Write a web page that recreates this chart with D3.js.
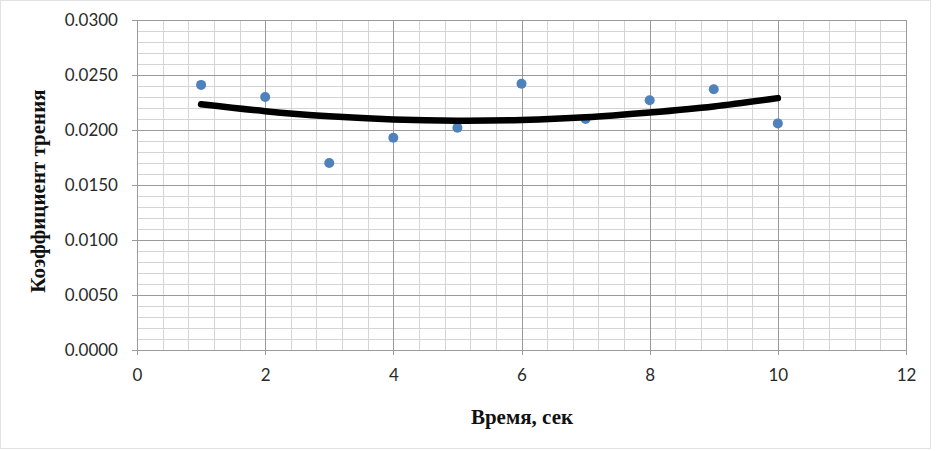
<!DOCTYPE html>
<html lang="ru">
<meta charset="utf-8">
<head>
  <title>Коэффициент трения</title>
  <style>
  body {
    margin: 0;
    background: #fff;
  }

  .grid-minor line {
    stroke: #d4d4d4;
    stroke-width: 1px;
    shape-rendering: crispEdges;
  }

  .grid-major line {
    stroke: #9a9a9a;
    stroke-width: 1px;
    shape-rendering: crispEdges;
  }

  .grid-minor path, .grid-major path {
    stroke-width: 0;
  }

  .axis path, .axis line {
    stroke: #9a9a9a;
    shape-rendering: crispEdges;
  }

  .axis text {
    font: 17px Lato, "Open Sans", sans-serif;
    fill: #2a2a2a;
  }

  .axis-title {
    font: bold 21px "Liberation Serif", "DejaVu Serif", serif;
    fill: #111;
  }

  .trend {
    fill: none;
    stroke: #000;
    stroke-width: 6.5px;
    stroke-linecap: round;
  }
  </style>
</head>
<body>
  <svg id="chart" width="937" height="451"></svg>
  <script src="https://cdn.jsdelivr.net/npm/d3@7"></script>
  <script>

// measured points (time, sec -> friction coefficient)
var times = [1, 2, 3, 4, 5, 6, 7, 8, 9, 10];
var friction = [0.0241, 0.0230, 0.0170, 0.0193, 0.0202, 0.0242, 0.0210, 0.0227, 0.0237, 0.0206];

// polynomial trend line at each time
var trend = [0.02234, 0.02171, 0.02125, 0.02096, 0.02085, 0.02091, 0.02115, 0.02159, 0.02214, 0.02290];

var xTicks = [0, 2, 4, 6, 8, 10, 12];
var yTicks = [0, 0.005, 0.010, 0.015, 0.020, 0.025, 0.030];

var svg = d3.select("svg#chart"),
    margin = {top: 20, right: 31, bottom: 101, left: 137},
    width = svg.attr("width") - margin.left - margin.right,
    height = svg.attr("height") - margin.top - margin.bottom,
    g = svg.append("g").attr("transform", "translate(" + margin.left + "," + margin.top + ")");

// faint frame round the whole chart
svg.append("rect")
    .attr("x", 0.5)
    .attr("y", 0.5)
    .attr("width", 930)
    .attr("height", 448)
    .attr("fill", "none")
    .attr("stroke", "#e2e2e2");

var xScale = d3.scaleLinear().domain([0, 12]).range([0, width]),
    yScale = d3.scaleLinear().domain([0, 0.03]).range([height, 0]);

// minor gridlines: every 0.4 sec and every 0.001
g.append("g")
    .attr("class", "grid-minor")
    .attr("transform", "translate(0," + height + ")")
    .call(d3.axisBottom(xScale)
        .tickValues(d3.range(0, 30).map(function(i) { return i * 0.4; }))
        .tickSize(-height)
        .tickFormat(""));

g.append("g")
    .attr("class", "grid-minor")
    .call(d3.axisLeft(yScale)
        .tickValues(d3.range(0, 30).map(function(i) { return i * 0.001; }))
        .tickSize(-width)
        .tickFormat(""));

// major gridlines
g.append("g")
    .attr("class", "grid-major")
    .attr("transform", "translate(0," + height + ")")
    .call(d3.axisBottom(xScale)
        .tickValues(xTicks)
        .tickSize(-height)
        .tickFormat(""));

g.append("g")
    .attr("class", "grid-major")
    .call(d3.axisLeft(yScale)
        .tickValues(yTicks)
        .tickSize(-width)
        .tickFormat(""));

// plot border
g.append("rect")
    .attr("width", width)
    .attr("height", height)
    .attr("fill", "none")
    .attr("stroke", "#9a9a9a")
    .attr("shape-rendering", "crispEdges");

// axes
g.append("g")
    .attr("class", "axis axis--x")
    .attr("transform", "translate(0," + height + ")")
    .call(d3.axisBottom(xScale)
        .tickValues(xTicks)
        .tickSize(5)
        .tickPadding(14)
        .tickSizeOuter(0))
  .selectAll("text")
    .attr("dy", "0.71em");

g.append("g")
    .attr("class", "axis axis--y")
    .call(d3.axisLeft(yScale)
        .tickValues(yTicks)
        .tickSize(5)
        .tickPadding(14)
        .tickSizeOuter(0)
        .tickFormat(d3.format(".4f")));

// axis titles
svg.append("text")
    .attr("class", "axis-title")
    .attr("x", 522)
    .attr("y", 424)
    .attr("text-anchor", "middle")
    .text("Время, сек");

svg.append("text")
    .attr("class", "axis-title")
    .attr("transform", "translate(45,191) rotate(-90)")
    .attr("text-anchor", "middle")
    .text("Коэффициент трения");

// trend line
var line = d3.line()
    .curve(d3.curveNatural)
    .x(function(d) { return xScale(d.t); })
    .y(function(d) { return yScale(d.v); });

// points
g.selectAll(".dot")
    .data(times.map(function(t, i) { return {t: t, v: friction[i]}; }))
    .enter().append("circle")
    .attr("class", "dot")
    .attr("cx", function(d) { return xScale(d.t); })
    .attr("cy", function(d) { return yScale(d.v); })
    .attr("r", 5)
    .attr("fill", "#4f81bd");

g.append("path")
    .datum(times.map(function(t, i) { return {t: t, v: trend[i]}; }))
    .attr("class", "trend")
    .attr("d", line);

</script>
</body>
</html>
